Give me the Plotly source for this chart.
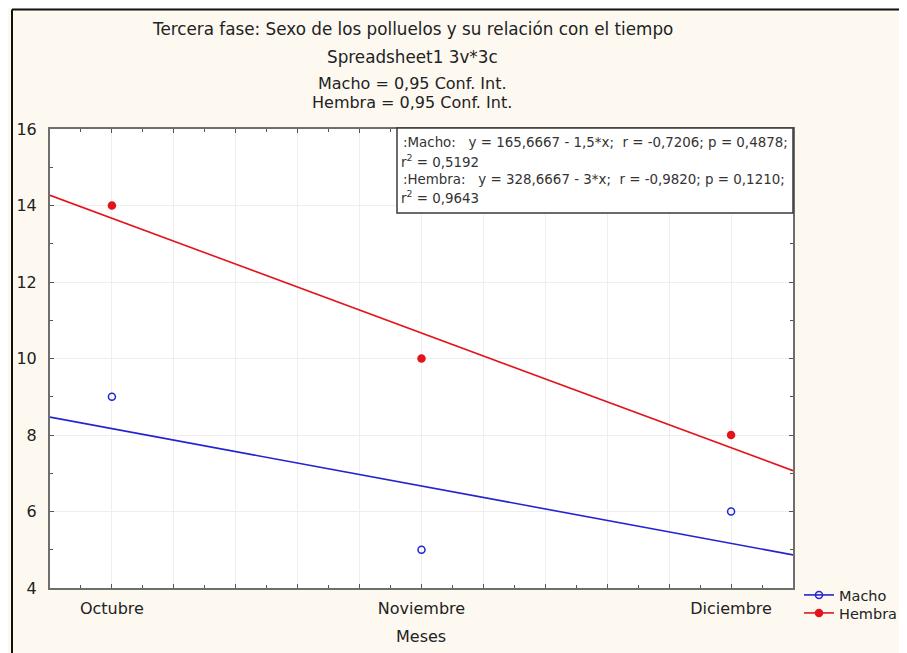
import numpy as np
import plotly.graph_objects as go

# ---- data ----
meses = ["Octubre", "Noviembre", "Diciembre"]
macho = [9, 5, 6]
hembra = [14, 10, 8]

titulo = [
    "Tercera fase: Sexo de los polluelos y su relación con el tiempo",
    "Spreadsheet1 3v*3c",
    "Macho = 0,95 Conf. Int.",
    "Hembra = 0,95 Conf. Int.",
]
stats_lines = [
    ":Macho:   y = 165,6667 - 1,5*x;  r = -0,7206; p = 0,4878;",
    "r<sup>2</sup> = 0,5192",
    ":Hembra:   y = 328,6667 - 3*x;  r = -0,9820; p = 0,1210;",
    "r<sup>2</sup> = 0,9643",
]

FONT = "'DejaVu Sans', Arial, sans-serif"
BLUE = "#2323D2"
RED = "#E3141C"

xpos = np.arange(len(meses))
xr = [-0.2, 2.2]

fig = go.Figure()

for vals, name, col, sym, leg in [(macho, "Macho", BLUE, "circle-open", "legend"),
                                  (hembra, "Hembra", RED, "circle", "legend2")]:
    b, a = np.polyfit(xpos, vals, 1)
    xx = np.array(xr)
    fig.add_trace(go.Scatter(x=xx, y=a + b * xx, mode="lines",
                             line=dict(color=col, width=1.6),
                             showlegend=False, hoverinfo="skip"))
    fig.add_trace(go.Scatter(x=xpos, y=vals, mode="markers",
                             marker=dict(color=col, symbol=sym, size=7,
                                         line=dict(color=col, width=1.5)),
                             showlegend=False, name=name))
    fig.add_trace(go.Scatter(x=[None], y=[None], mode="lines+markers", name=name,
                             legend=leg, xaxis="x2",
                             line=dict(color=col, width=1.6),
                             marker=dict(color=col, symbol=sym, size=7,
                                         line=dict(color=col, width=1.5))))

# page body adds an 8px offset; work in screen pixels and convert
OFF = 8
W, H = 907 - OFF, 653 - OFF
L, T = 50 - OFF, 129 - OFF
R = W - (793 - OFF)
B = H - (588 - OFF)
pw, ph = W - L - R, H - T - B

def px(s):
    return (s - OFF - L) / pw

def py(s):
    return (H - B - (s - OFF)) / ph

fig.update_layout(
    xaxis=dict(range=xr, tickmode="array", tickvals=xpos, ticktext=meses,
               showgrid=True, gridcolor="#EEEEEE", gridwidth=1,
               ticks="inside", ticklen=4, tickcolor="#555",
               minor=dict(dtick=0.2, tick0=0, ticks="inside", ticklen=4, tickcolor="#555",
                          showgrid=True, gridcolor="#EEEEEE", gridwidth=1),
               showline=True, linecolor="#6E6E6E", linewidth=2, mirror="ticks",
               zeroline=False, tickfont=dict(family=FONT, size=16, color="#222"),
               ticklabelstandoff=5),
    xaxis2=dict(range=xr, overlaying="x", side="bottom", matches="x",
                tickmode="linear", tick0=0, dtick=0.1, ticks="inside", ticklen=3,
                tickcolor="#555", showticklabels=False, showgrid=False,
                zeroline=False, showline=False, mirror="ticks"),
    yaxis=dict(range=[4, 16], tickmode="linear", tick0=4, dtick=2,
               showgrid=True, gridcolor="#EEEEEE", gridwidth=1,
               ticks="inside", ticklen=4, tickcolor="#555",
               minor=dict(dtick=1, ticks="inside", ticklen=3, tickcolor="#555", showgrid=False),
               showline=True, linecolor="#6E6E6E", linewidth=2, mirror="ticks",
               zeroline=False, tickfont=dict(family=FONT, size=16, color="#222"),
               ticklabelstandoff=8),
)

annotations = []
for txt, yc, fs in zip(titulo, [29, 57, 84, 103], [16.8, 16.8, 16, 16]):
    annotations.append(dict(text=txt, x=px(412), y=py(yc), xref="paper", yref="paper",
                            xanchor="center", yanchor="middle", showarrow=False,
                            font=dict(family=FONT, size=fs, color="#222")))
for txt, yc, xl in zip(stats_lines, [143, 161, 179, 197], [401, 399, 401, 399]):
    annotations.append(dict(text=txt, x=px(xl), y=py(yc), xref="paper", yref="paper",
                            xanchor="left", yanchor="middle", showarrow=False,
                            font=dict(family=FONT, size=13.4, color="#333")))
annotations.append(dict(text="Meses", x=px(421), y=py(636), xref="paper", yref="paper",
                        xanchor="center", yanchor="middle", showarrow=False,
                        font=dict(family=FONT, size=16, color="#222")))

shapes = [
    dict(type="rect", xref="paper", yref="paper", x0=px(397), x1=1.0, y0=py(213), y1=py(128),
         fillcolor="white", line=dict(color="#3A3A3A", width=1.5), layer="above"),
    dict(type="line", xref="paper", yref="paper", x0=px(12), x1=px(920), y0=py(9.5), y1=py(9.5),
         line=dict(color="#111", width=2)),
    dict(type="line", xref="paper", yref="paper", x0=px(12), x1=px(12), y0=py(9.5), y1=py(700),
         line=dict(color="#111", width=2)),
]

legstyle = dict(xanchor="left", yanchor="middle", bgcolor="rgba(0,0,0,0)",
                font=dict(family=FONT, size=14.5, color="#222"), itemwidth=30)

fig.update_layout(
    width=W, height=H,
    margin=dict(l=L, r=R, t=T, b=B, autoexpand=False),
    paper_bgcolor="#FDF9F1", plot_bgcolor="white",
    font=dict(family=FONT, color="#222"),
    annotations=annotations, shapes=shapes,
    legend=dict(x=px(799), y=py(595), **legstyle),
    legend2=dict(x=px(799), y=py(613), **legstyle),
)

fig.write_html("out.html")
